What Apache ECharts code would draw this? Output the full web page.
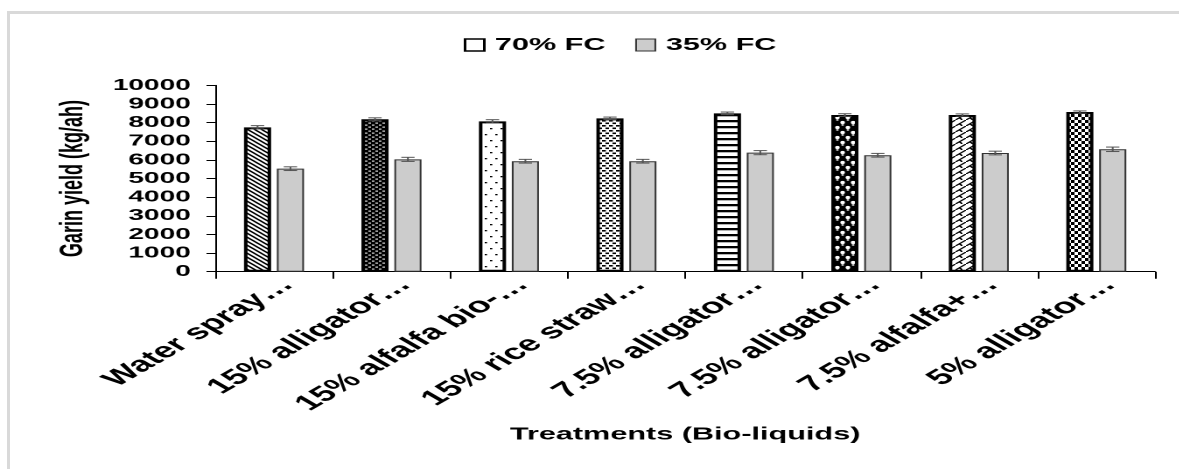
<!DOCTYPE html>
<html>
<head>
<meta charset="utf-8">
<script src="https://cdn.jsdelivr.net/npm/echarts@6/dist/echarts.min.js"></script>
<style>
  html, body { margin: 0; padding: 0; background: #fff; overflow: hidden; }
  body { width: 1179px; height: 469px; position: relative; }
  #frame {
    position: absolute; left: 7px; top: 11px; width: 1200px; height: 500px;
    border-left: 3px solid #d9d9d9; border-top: 3px solid #d9d9d9;
  }
  /* chart is laid out narrow and widened horizontally, giving the wide lettering */
  #chart {
    position: absolute; left: 0; top: 0; width: 674px; height: 469px;
    transform: scaleX(1.75); transform-origin: 0 0;
  }
</style>
</head>
<body>
<div id="frame"></div>
<div id="chart"></div>
<script>
// Grain yield (kg/ha) under two irrigation levels for each bio-liquid treatment
const categories = [
  'Water spray…', '15% alligator…', '15% alfalfa bio-…', '15% rice straw…',
  '7.5% alligator…', '7.5% alligator…', '7.5% alfalfa+…', '5% alligator…'
];
const fc70 = [7750, 8180, 8070, 8230, 8500, 8410, 8410, 8570];
const fc35 = [5530, 6030, 5930, 5930, 6390, 6250, 6370, 6570];
const fc70Err = [90, 80, 90, 70, 70, 70, 60, 60];
const fc35Err = [100, 110, 100, 100, 110, 100, 100, 120];
const yTicks = { min: 0, max: 10000, interval: 1000 };

const FONT = "'Liberation Sans', Arial, sans-serif";
const BAR_W = 15.5;
const GAP_PX = 3.3;

// small repeating tiles for the hatched bars
function tile(w, h, draw) {
  const c = document.createElement('canvas');
  c.width = w * 2; c.height = h * 2;
  const ctx = c.getContext('2d');
  ctx.scale(2, 2);
  draw(ctx);
  return { image: c, repeat: 'repeat', scaleX: 0.5, scaleY: 0.5 };
}
function bg(ctx, w, h, col) { ctx.fillStyle = col; ctx.fillRect(0, 0, w, h); }

const patterns = [
  // back diagonal hatch
  tile(4, 4, ctx => {
    bg(ctx, 4, 4, '#fff');
    ctx.strokeStyle = '#000'; ctx.lineWidth = 1.3;
    ctx.beginPath();
    ctx.moveTo(-1, -1); ctx.lineTo(5, 5);
    ctx.moveTo(-1, 3); ctx.lineTo(1, 5);
    ctx.moveTo(3, -1); ctx.lineTo(5, 1);
    ctx.stroke();
  }),
  // dark with small light dashes
  tile(4, 4, ctx => {
    bg(ctx, 4, 4, '#000');
    ctx.fillStyle = '#fff';
    ctx.fillRect(0.5, 0.6, 1.5, 1);
    ctx.fillRect(2.5, 2.6, 1.5, 1);
  }),
  // sparse dots
  tile(6, 12, ctx => {
    bg(ctx, 6, 12, '#fff');
    ctx.fillStyle = '#000';
    ctx.fillRect(1, 2, 1.3, 1.3);
    ctx.fillRect(4, 8, 1.3, 1.3);
  }),
  // staggered dashes
  tile(4, 5, ctx => {
    bg(ctx, 4, 5, '#fff');
    ctx.fillStyle = '#000';
    ctx.fillRect(0, 0, 2.2, 1.6);
    ctx.fillRect(2, 2.5, 2.2, 1.6);
  }),
  // horizontal stripes
  tile(2, 6, ctx => {
    bg(ctx, 2, 6, '#fff');
    ctx.fillStyle = '#000';
    ctx.fillRect(0, 0, 2, 2.3);
  }),
  // dark honeycomb
  tile(6, 10, ctx => {
    bg(ctx, 6, 10, '#000');
    ctx.fillStyle = '#fff';
    [[1.5, 2.5], [4.5, 7.5]].forEach(([x, y]) => {
      ctx.beginPath(); ctx.ellipse(x, y, 1.3, 1.6, 0, 0, Math.PI * 2); ctx.fill();
    });
    [[4.5, 0], [4.5, 10], [1.5, 5], [-1.5, 5], [7.5, 5]].forEach(([x, y]) => {
      ctx.beginPath(); ctx.ellipse(x, y, 0.8, 0.7, 0, 0, Math.PI * 2); ctx.fill();
    });
  }),
  // forward diagonal with hooks
  tile(6, 6, ctx => {
    bg(ctx, 6, 6, '#fff');
    ctx.strokeStyle = '#000'; ctx.lineWidth = 1;
    ctx.beginPath();
    ctx.moveTo(-1, 7); ctx.lineTo(7, -1);
    ctx.moveTo(2, 4); ctx.quadraticCurveTo(3.5, 4.5, 3.5, 6);
    ctx.stroke();
  }),
  // small checkerboard
  tile(4, 6, ctx => {
    bg(ctx, 4, 6, '#fff');
    ctx.fillStyle = '#000';
    ctx.fillRect(0, 0, 2, 3);
    ctx.fillRect(2, 3, 2, 3);
  })
];

function errorSeries(vals, errs, side) {
  return {
    type: 'custom',
    silent: true,
    z: 10,
    data: vals.map((v, i) => [i, v - errs[i], v + errs[i]]),
    encode: { x: 0, y: [1, 2] },
    renderItem: (params, api) => {
      const i = api.value(0);
      const lo = api.coord([i, api.value(1)]);
      const hi = api.coord([i, api.value(2)]);
      const x = lo[0] + side * (BAR_W + GAP_PX) / 2;
      const hw = 3.8;
      const st = { stroke: '#555', lineWidth: 1, fill: null };
      return {
        type: 'group',
        children: [
          { type: 'line', shape: { x1: x, y1: hi[1], x2: x, y2: lo[1] }, style: st },
          { type: 'line', shape: { x1: x - hw, y1: hi[1], x2: x + hw, y2: hi[1] }, style: st },
          { type: 'line', shape: { x1: x - hw, y1: lo[1], x2: x + hw, y2: lo[1] }, style: st }
        ]
      };
    }
  };
}

const chart = echarts.init(document.getElementById('chart'), null, { renderer: 'canvas', devicePixelRatio: 2 });
chart.setOption({
  backgroundColor: 'transparent',
  animation: false,
  textStyle: { fontFamily: FONT },
  legend: {
    data: [
      { name: '70% FC', itemStyle: { color: '#fff', borderColor: '#000', borderWidth: 1.5 } },
      { name: '35% FC', itemStyle: { color: '#cccccc', borderColor: '#333', borderWidth: 1 } }
    ],
    left: 260, top: 31,
    itemWidth: 11, itemHeight: 12, itemGap: 17,
    icon: 'rect',
    textStyle: { fontFamily: FONT, fontWeight: 'bold', fontSize: 17.5, color: '#000', padding: [0, 0, 0, 1] }
  },
  grid: { left: 123, right: 14, top: 85.4, bottom: 197.3, containLabel: false },
  xAxis: {
    type: 'category',
    data: categories,
    name: 'Treatments (Bio-liquids)',
    nameLocation: 'middle',
    nameGap: 154,
    nameTextStyle: { fontFamily: FONT, fontWeight: 'bold', fontSize: 17.5, color: '#000' },
    axisLine: { lineStyle: { color: '#000', width: 1 } },
    axisTick: { show: true, length: 7, lineStyle: { color: '#000' } },
    axisLabel: {
      interval: 0, rotate: 45, margin: 2, verticalAlign: 'top',
      fontFamily: FONT, fontWeight: 'bold', fontSize: 21.5, color: '#000'
    },
    splitLine: { show: false }
  },
  yAxis: {
    type: 'value',
    min: yTicks.min, max: yTicks.max, interval: yTicks.interval,
    name: 'Garin yield (kg/ah)',
    nameLocation: 'middle',
    nameGap: 72,
    nameTextStyle: { fontFamily: FONT, fontWeight: 'bold', fontSize: 18, color: '#000' },
    axisLine: { show: true, lineStyle: { color: '#000', width: 1 } },
    axisTick: { show: true, length: 5, lineStyle: { color: '#000' } },
    axisLabel: {
      margin: 14, fontFamily: FONT, fontWeight: 'bold', fontSize: 16, color: '#000',
      formatter: v => String(v)
    },
    splitLine: { show: false }
  },
  series: [
    {
      name: '70% FC', type: 'bar', barWidth: BAR_W, barGap: (GAP_PX / BAR_W * 100) + '%',
      data: fc70.map((v, i) => ({
        value: v,
        itemStyle: { color: patterns[i], borderColor: '#000', borderWidth: 2 }
      }))
    },
    {
      name: '35% FC', type: 'bar', barWidth: BAR_W,
      itemStyle: { color: '#cccccc', borderColor: '#333', borderWidth: 1 },
      data: fc35
    },
    errorSeries(fc70, fc70Err, -1),
    errorSeries(fc35, fc35Err, 1)
  ]
});
</script>
</body>
</html>
